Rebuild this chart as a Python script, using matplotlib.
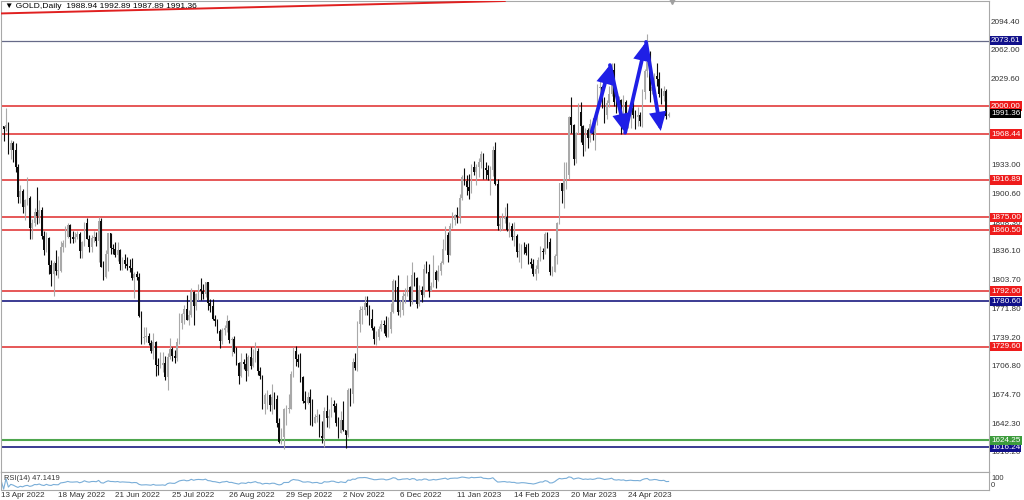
import matplotlib
matplotlib.use("Agg")
import matplotlib.pyplot as plt
import matplotlib.transforms as mtransforms
import numpy as np
import pandas as pd

plt.rcParams['font.family'] = ['Liberation Sans', 'DejaVu Sans']

# ==========================================================
# DATA  (GOLD daily, 13 Apr 2022 -> 17 May 2023)
# ==========================================================
opens = [
    1966, 1977, 1975, 1979, 1950, 1958, 1951, 1932, 1898, 1905,
    1886, 1894, 1897, 1863, 1868, 1881, 1876, 1883, 1854, 1838,
    1852, 1821, 1811, 1824, 1815, 1815, 1841, 1846, 1853, 1866,
    1853, 1851, 1853, 1856, 1837, 1847, 1869, 1851, 1841, 1852,
    1853, 1848, 1871, 1819, 1808, 1834, 1857, 1840, 1839, 1832,
    1838, 1822, 1827, 1823, 1820, 1818, 1807, 1811, 1808, 1764,
    1739, 1740, 1742, 1734, 1725, 1735, 1709, 1708, 1709, 1711,
    1696, 1718, 1727, 1719, 1717, 1735, 1756, 1766, 1772, 1760,
    1765, 1791, 1775, 1789, 1794, 1792, 1789, 1802, 1779, 1775,
    1761, 1758, 1747, 1736, 1748, 1751, 1758, 1737, 1738, 1723,
    1711, 1697, 1712, 1710, 1702, 1718, 1708, 1717, 1725, 1702,
    1697, 1665, 1675, 1675, 1664, 1673, 1671, 1644, 1622, 1628,
    1659, 1660, 1660, 1699, 1725, 1716, 1712, 1695, 1668, 1666,
    1673, 1666, 1644, 1650, 1652, 1629, 1627, 1657, 1649, 1652,
    1665, 1663, 1644, 1633, 1647, 1636, 1630, 1681, 1676, 1712,
    1706, 1755, 1771, 1771, 1779, 1774, 1761, 1751, 1738, 1740,
    1749, 1755, 1754, 1741, 1749, 1768, 1803, 1797, 1768, 1771,
    1786, 1789, 1797, 1781, 1810, 1807, 1777, 1793, 1788, 1817,
    1814, 1792, 1798, 1813, 1804, 1815, 1824, 1839, 1855, 1833,
    1865, 1872, 1877, 1875, 1897, 1920, 1916, 1909, 1904, 1932,
    1926, 1931, 1937, 1946, 1930, 1928, 1923, 1928, 1951, 1912,
    1865, 1867, 1873, 1875, 1861, 1865, 1853, 1854, 1836, 1836,
    1842, 1841, 1835, 1825, 1822, 1811, 1817, 1827, 1837, 1836,
    1856, 1847, 1813, 1814, 1831, 1868, 1913, 1904, 1918, 1923,
    1988, 1979, 1940, 1970, 1993, 1978, 1956, 1973, 1964, 1980,
    1969, 1984, 2020, 2021, 2008, 1990, 2003, 2014, 2040, 2004,
    1995, 2007, 1995, 2004, 1983, 1989, 1998, 1990, 1988, 1990,
    1983, 2016, 2039, 2050, 2017, 2021, 2034, 2030, 2014, 2011,
    2017, 1988.94,
]

highs = [
    1981, 1978, 1998, 1982, 1962, 1961, 1958, 1935, 1911, 1907,
    1895, 1920, 1899, 1873, 1885, 1909, 1894, 1886, 1860, 1858,
    1853, 1827, 1826, 1838, 1831, 1848, 1849, 1865, 1869, 1867,
    1859, 1858, 1860, 1858, 1848, 1870, 1874, 1855, 1855, 1860,
    1858, 1875, 1874, 1826, 1838, 1857, 1857, 1845, 1847, 1847,
    1839, 1830, 1834, 1830, 1828, 1829, 1813, 1815, 1812, 1770,
    1752, 1752, 1745, 1737, 1745, 1736, 1717, 1723, 1724, 1719,
    1722, 1739, 1729, 1726, 1739, 1767, 1767, 1776, 1788, 1771,
    1795, 1792, 1790, 1800, 1807, 1800, 1802, 1802, 1783, 1783,
    1765, 1761, 1749, 1751, 1754, 1765, 1760, 1740, 1742, 1729,
    1712, 1722, 1716, 1722, 1720, 1729, 1727, 1735, 1728, 1707,
    1698, 1677, 1681, 1676, 1688, 1679, 1675, 1649, 1638, 1661,
    1664, 1676, 1702, 1729, 1730, 1721, 1722, 1697, 1680, 1679,
    1682, 1671, 1654, 1660, 1654, 1646, 1662, 1675, 1660, 1673,
    1670, 1666, 1650, 1657, 1669, 1636, 1683, 1683, 1717, 1722,
    1758, 1775, 1775, 1787, 1786, 1776, 1772, 1753, 1747, 1753,
    1760, 1760, 1764, 1763, 1779, 1806, 1804, 1810, 1782, 1791,
    1795, 1810, 1798, 1825, 1814, 1808, 1799, 1798, 1823, 1826,
    1823, 1802, 1833, 1816, 1821, 1826, 1851, 1865, 1858, 1869,
    1881, 1879, 1886, 1901, 1922, 1930, 1922, 1924, 1935, 1938,
    1935, 1942, 1949, 1947, 1937, 1934, 1933, 1955, 1960, 1918,
    1875, 1880, 1886, 1891, 1870, 1868, 1870, 1856, 1846, 1845,
    1847, 1845, 1846, 1829, 1828, 1821, 1830, 1843, 1840, 1858,
    1858, 1852, 1820, 1834, 1870, 1914, 1913, 1937, 1937, 1989,
    2010, 1980, 1971, 2003, 2004, 1979, 1975, 1975, 1985, 1987,
    1990, 2025, 2032, 2022, 2010, 2007, 2022, 2048, 2048, 2015,
    2011, 2008, 2012, 2007, 1994, 2000, 2009, 1995, 1999, 1993,
    2019, 2042, 2081, 2062, 2028, 2037, 2048, 2038, 2020, 2022,
    2019, 1992.89,
]

lows = [
    1963, 1961, 1972, 1946, 1940, 1937, 1926, 1891, 1891, 1880,
    1872, 1889, 1850, 1851, 1865, 1867, 1869, 1850, 1832, 1836,
    1811, 1798, 1787, 1810, 1807, 1814, 1836, 1842, 1852, 1846,
    1846, 1847, 1850, 1829, 1829, 1843, 1850, 1836, 1836, 1847,
    1843, 1825, 1819, 1805, 1807, 1815, 1834, 1834, 1830, 1826,
    1816, 1816, 1818, 1816, 1813, 1805, 1784, 1804, 1763, 1733,
    1732, 1735, 1731, 1722, 1716, 1697, 1698, 1706, 1701, 1692,
    1681, 1716, 1713, 1711, 1714, 1732, 1749, 1755, 1759, 1754,
    1763, 1754, 1771, 1782, 1782, 1783, 1785, 1771, 1768, 1759,
    1753, 1745, 1728, 1732, 1743, 1746, 1734, 1719, 1722, 1709,
    1688, 1695, 1705, 1691, 1697, 1704, 1707, 1712, 1698, 1693,
    1660, 1654, 1659, 1657, 1654, 1660, 1639, 1621, 1620, 1615,
    1642, 1655, 1659, 1696, 1708, 1707, 1690, 1666, 1660, 1665,
    1642, 1640, 1644, 1645, 1628, 1621, 1617, 1639, 1638, 1651,
    1656, 1640, 1627, 1632, 1635, 1616, 1628, 1663, 1666, 1703,
    1702, 1746, 1755, 1765, 1765, 1754, 1748, 1733, 1731, 1737,
    1747, 1745, 1740, 1740, 1745, 1767, 1781, 1765, 1763, 1765,
    1779, 1787, 1775, 1778, 1798, 1773, 1775, 1780, 1785, 1812,
    1785, 1792, 1797, 1796, 1803, 1810, 1822, 1838, 1825, 1833,
    1863, 1866, 1868, 1869, 1894, 1911, 1900, 1896, 1902, 1922,
    1911, 1920, 1930, 1918, 1918, 1917, 1900, 1921, 1911, 1861,
    1860, 1861, 1868, 1860, 1853, 1849, 1843, 1830, 1825, 1818,
    1834, 1832, 1822, 1818, 1809, 1805, 1812, 1826, 1828, 1834,
    1840, 1810, 1809, 1813, 1823, 1867, 1891, 1885, 1907, 1918,
    1970, 1934, 1936, 1969, 1959, 1944, 1949, 1953, 1959, 1962,
    1950, 1979, 2011, 1998, 1981, 1985, 1999, 2011, 2000, 1992,
    1990, 1969, 1991, 1973, 1975, 1975, 1987, 1974, 1977, 1977,
    1976, 2008, 2033, 2004, 2013, 2016, 2022, 2010, 2002, 2006,
    1985, 1987.89,
]

closes = [
    1977, 1974, 1979, 1950, 1958, 1951, 1932, 1898, 1905, 1886,
    1894, 1897, 1863, 1868, 1881, 1876, 1883, 1854, 1838, 1852,
    1821, 1811, 1824, 1815, 1815, 1841, 1846, 1853, 1866, 1853,
    1851, 1853, 1856, 1837, 1847, 1869, 1851, 1841, 1852, 1853,
    1848, 1871, 1819, 1808, 1834, 1857, 1840, 1839, 1832, 1838,
    1822, 1827, 1823, 1820, 1818, 1807, 1811, 1808, 1764, 1739,
    1740, 1742, 1734, 1725, 1735, 1709, 1708, 1709, 1711, 1696,
    1718, 1727, 1719, 1717, 1735, 1756, 1766, 1772, 1760, 1765,
    1791, 1775, 1789, 1794, 1792, 1789, 1802, 1779, 1775, 1761,
    1758, 1747, 1736, 1748, 1751, 1758, 1737, 1738, 1723, 1711,
    1697, 1712, 1710, 1702, 1718, 1708, 1717, 1725, 1702, 1697,
    1665, 1675, 1675, 1664, 1673, 1671, 1644, 1622, 1628, 1659,
    1660, 1660, 1699, 1725, 1716, 1712, 1695, 1668, 1666, 1673,
    1666, 1644, 1650, 1652, 1629, 1627, 1657, 1649, 1652, 1665,
    1663, 1644, 1633, 1647, 1636, 1630, 1681, 1676, 1712, 1706,
    1755, 1771, 1771, 1779, 1774, 1761, 1751, 1738, 1740, 1749,
    1755, 1754, 1741, 1749, 1768, 1803, 1797, 1768, 1771, 1786,
    1789, 1797, 1781, 1810, 1807, 1777, 1793, 1788, 1817, 1814,
    1792, 1798, 1813, 1804, 1815, 1824, 1839, 1855, 1833, 1865,
    1872, 1877, 1875, 1897, 1920, 1916, 1909, 1904, 1932, 1926,
    1931, 1937, 1946, 1930, 1928, 1923, 1928, 1951, 1912, 1865,
    1867, 1873, 1875, 1861, 1865, 1853, 1854, 1836, 1836, 1842,
    1841, 1835, 1825, 1822, 1811, 1817, 1827, 1837, 1836, 1856,
    1847, 1813, 1814, 1831, 1868, 1913, 1904, 1918, 1923, 1988,
    1979, 1940, 1970, 1993, 1978, 1956, 1973, 1964, 1980, 1969,
    1984, 2020, 2021, 2008, 1990, 2003, 2014, 2040, 2004, 1995,
    2007, 1995, 2004, 1983, 1989, 1998, 1990, 1988, 1990, 1983,
    2016, 2039, 2050, 2017, 2021, 2034, 2030, 2014, 2011, 2017,
    1989, 1991.36,
]

date_labels = ["13 Apr 2022", "18 May 2022", "21 Jun 2022", "25 Jul 2022",
               "26 Aug 2022", "29 Sep 2022", "2 Nov 2022", "6 Dec 2022",
               "11 Jan 2023", "14 Feb 2023", "20 Mar 2023", "24 Apr 2023"]
date_step = 24

# scale labels that are not hidden behind a level box
price_ticks = [2094.40, 2062.00, 2029.60, 1933.00, 1900.60, 1868.30,
               1836.10, 1803.70, 1771.80, 1739.20, 1706.80, 1674.70,
               1642.30, 1610.20]

red_levels = [2000.00, 1968.44, 1916.89, 1875.00, 1860.50, 1792.00, 1729.60]
navy_levels = [1780.60, 1616.24]
green_levels = [1624.25]
top_level = [2073.61]
last_price = 1991.36

# double top drawing (bar index, price)
pattern_x = [248.6, 256.3, 262.7, 271.5, 277.7]
pattern_y = [1971.0, 2046.0, 1970.0, 2072.0, 1972.0]

# trend line (bar index, price)
trend_x = [-0.5, 212.0]
trend_y = [2104.0, 2118.0]

header = "\u25bc GOLD,Daily  1988.94 1992.89 1987.89 1991.36"
rsi_text = "RSI(14) 47.1419"

# ==========================================================
# FIGURE
# ==========================================================
fig = plt.figure(figsize=(10.24, 5), dpi=100)
fig.patch.set_facecolor("white")

ax = fig.add_axes([0.001, 0.056, 0.9648, 0.942])
ax_rsi = fig.add_axes([0.001, 0.02, 0.9648, 0.036])

for a in (ax, ax_rsi):
    a.set_facecolor("white")
    a.set_xticks([])
    a.set_yticks([])
    for s in a.spines.values():
        s.set_color("#a8a8a8")
        s.set_linewidth(0.8)
    a.set_xlim(-0.1, 415.9)

ax.set_ylim(1588.7, 2118.0)
ax_rsi.set_ylim(-5, 105)

o = np.array(opens)
h = np.array(highs)
l = np.array(lows)
c = np.array(closes)
x = np.arange(len(c))

bull = c >= o
colors = np.where(bull, "#a9a9a9", "#0c0c0c")

# ==========================================================
# LEVELS
# ==========================================================
for p in red_levels:
    ax.axhline(p, color="#e23b3b", lw=1.2, zorder=2)
for p in navy_levels:
    ax.axhline(p, color="#1a1a80", lw=1.2, zorder=2)
for p in green_levels:
    ax.axhline(p, color="#4ea64e", lw=1.5, zorder=2)
for p in top_level:
    ax.axhline(p, color="#666a88", lw=0.9, zorder=2)

ax.plot(trend_x, trend_y, color="#e02020", lw=1.4, zorder=3)

# ==========================================================
# CANDLES
# ==========================================================
ax.vlines(x, l, h, colors=colors, lw=0.8, zorder=4)
body = np.maximum(np.abs(c - o), 0.6)
ax.bar(x, body, bottom=np.minimum(o, c), width=0.72, color=colors,
       linewidth=0, zorder=5)

# ==========================================================
# DOUBLE TOP ARROWS
# ==========================================================
for i in range(len(pattern_x) - 1):
    ax.annotate("", xy=(pattern_x[i + 1], pattern_y[i + 1]),
                xytext=(pattern_x[i], pattern_y[i]),
                arrowprops=dict(arrowstyle="-|>,head_length=0.7,head_width=0.32",
                                color="#1f1fe6", lw=2.7, shrinkA=0, shrinkB=0,
                                mutation_scale=13, joinstyle="miter"),
                zorder=8)

# chart shift marker
mark_tr = mtransforms.blended_transform_factory(ax.transData, ax.transAxes)
ax.plot([len(c) + 0.5], [1.0], marker="v", color="#a0a0a0", ms=5,
        transform=mark_tr, clip_on=False, zorder=9)

# ==========================================================
# RIGHT PRICE SCALE
# ==========================================================
ytr = ax.get_yaxis_transform()
fs = 5.9
for p in price_ticks:
    ax.text(1.002, p, f"{p:.2f}", transform=ytr, fontsize=fs, color="#333333",
            va="center", ha="left", clip_on=False, zorder=10)

def level_label(p, fc):
    ax.text(1.002, p, f"{p:.2f}", transform=ytr, fontsize=fs, color="white",
            va="center", ha="left", clip_on=False, zorder=12,
            bbox=dict(boxstyle="square,pad=0.15", fc=fc, ec="none"))

for p in red_levels:
    level_label(p, "#ee1c1c")
for p in navy_levels:
    level_label(p, "#10108a")
for p in green_levels:
    level_label(p, "#3c9c3c")
for p in top_level:
    level_label(p, "#10108a")
level_label(last_price, "#000000")

ax.text(0.004, 0.989, header, transform=ax.transAxes, fontsize=6.1,
        color="black", va="center", ha="left")

# ==========================================================
# RSI PANEL
# ==========================================================
cs = pd.Series(c, dtype=float)
delta = cs.diff().fillna(0)
gain = delta.clip(lower=0).ewm(alpha=1 / 14, adjust=False).mean()
loss = (-delta.clip(upper=0)).ewm(alpha=1 / 14, adjust=False).mean()
rsi = 100 - 100 / (1 + gain / loss.replace(0, np.nan))
rsi = rsi.fillna(50)

ax_rsi.plot(x, rsi, color="#7aaed8", lw=0.8)
ax_rsi.text(0.003, 0.62, rsi_text, transform=ax_rsi.transAxes, fontsize=5.4,
            color="#333333", va="center", ha="left")
ax_rsi.text(1.002, 0.66, "100", transform=ax_rsi.transAxes, fontsize=5.4,
            color="#333333", va="center", ha="left", clip_on=False)
ax_rsi.text(1.002, 0.26, "0", transform=ax_rsi.transAxes, fontsize=5.4,
            color="#333333", va="center", ha="left", clip_on=False)

# date labels
dtr = mtransforms.blended_transform_factory(ax_rsi.transData, ax_rsi.transAxes)
for k, lab in enumerate(date_labels):
    ax_rsi.text(k * date_step, -0.12, lab, transform=dtr, fontsize=fs,
                color="#333333", va="top", ha="left", clip_on=False)

fig.savefig("out.png", dpi=100, facecolor="white")
